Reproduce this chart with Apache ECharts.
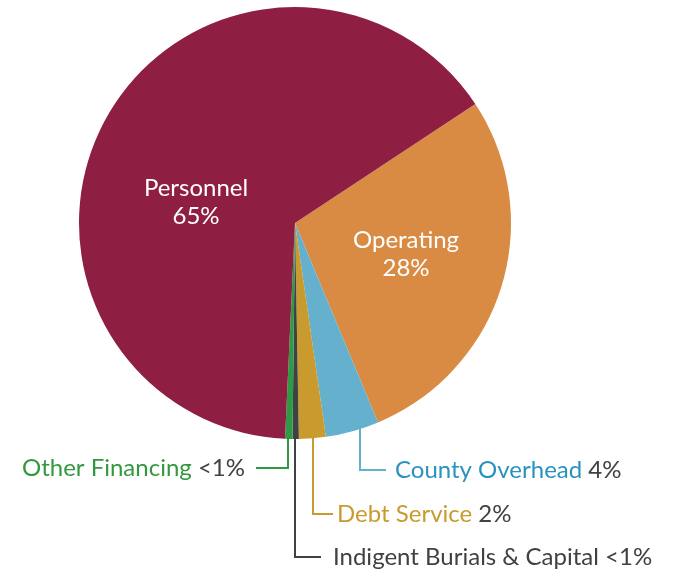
<!DOCTYPE html>
<html>
<head>
<meta charset="utf-8">
<script src="https://cdn.jsdelivr.net/npm/echarts@6/dist/echarts.min.js"></script>
<style>
  html, body { margin: 0; padding: 0; background: #fff; }
  #chart { width: 685px; height: 575px; }
</style>
</head>
<body>
<div id="chart"></div>
<script>
// budget split (percent of total)
const categories = ['Operating', 'County Overhead', 'Debt Service', 'Indigent Burials & Capital', 'Other Financing', 'Personnel']
const values = [28.0, 4.0, 2.0, 0.47, 0.55, 65.0]
const pctLabels = ['28%', '4%', '2%', '<1%', '<1%', '65%']

const sliceColors = ['#D98A43', '#65B0CD', '#C99B2E', '#3E4245', '#2E9A44', '#8E1F43']
const nameColors = ['#fff', '#2A92BF', '#C99A2E', '#3E4245', '#33993F', '#fff']
const pctColor = '#3E4245'
const fontFamily = 'Lato'
const fontSize = 24

const cx = 295
const cy = 223
const r = 216

// where the outside labels go: leader x, label y, label anchor x, end of leader
const outside = {
  1: { lx: 360, ty: 470, tx: 395, hx: 386, align: 'left' },
  2: { lx: 313, ty: 514, tx: 337, hx: 333, align: 'left' },
  3: { lx: 295, ty: 557, tx: 333, hx: 321, align: 'left' },
  4: { lx: 288, ty: 468, tx: 245, hx: 256, align: 'right' }
}
const inside = {
  0: { x: 406, y: 254 },
  5: { x: 196, y: 202 }
}

const chart = echarts.init(document.getElementById('chart'))

const data = categories.map((name, i) => {
  const isInside = inside[i] !== undefined
  return {
    name: name,
    value: values[i],
    itemStyle: { color: sliceColors[i] },
    label: isInside ? {
      position: 'inside',
      formatter: '{n|{b}}\n{n|' + pctLabels[i] + '}',
      rich: { n: { color: '#fff', fontSize: fontSize, lineHeight: 28, fontFamily: fontFamily } }
    } : {
      position: 'outside',
      formatter: '{n|{b} }{p|' + pctLabels[i] + '}',
      rich: {
        n: { color: nameColors[i], fontSize: fontSize, fontFamily: fontFamily },
        p: { color: pctColor, fontSize: fontSize, fontFamily: fontFamily }
      }
    },
    labelLine: isInside ? { show: false } : {
      show: true,
      lineStyle: { color: sliceColors[i], width: 2 }
    }
  }
})

chart.setOption({
  animation: false,
  series: [{
    type: 'pie',
    center: [cx, cy],
    radius: r,
    startAngle: 33.4,
    clockwise: true,
    avoidLabelOverlap: false,
    label: { show: true },
    labelLine: { show: true },
    emphasis: { disabled: true },
    data: data,
    labelLayout: function (params) {
      const i = params.dataIndex
      if (inside[i]) {
        return { x: inside[i].x, y: inside[i].y, align: 'center', verticalAlign: 'middle' }
      }
      const o = outside[i]
      const edgeY = cy + Math.sqrt(r * r - (o.lx - cx) * (o.lx - cx))
      return {
        x: o.tx,
        y: o.ty,
        align: o.align,
        verticalAlign: 'middle',
        labelLinePoints: [[o.lx, edgeY - 1], [o.lx, o.ty], [o.hx, o.ty]]
      }
    }
  }]
})
</script>
</body>
</html>
